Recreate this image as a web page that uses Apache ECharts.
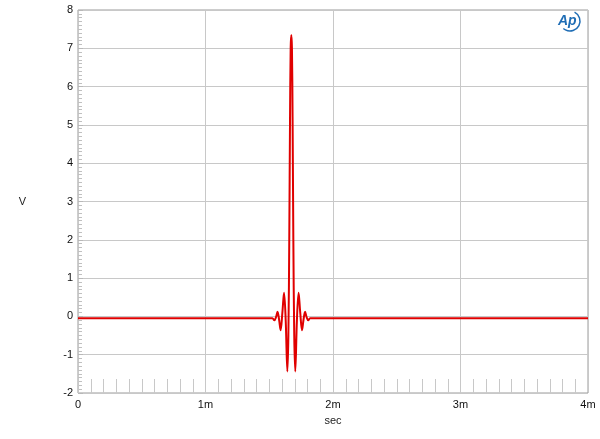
<!DOCTYPE html>
<html>
<head>
<meta charset="utf-8">
<script src="https://cdn.jsdelivr.net/npm/echarts@6/dist/echarts.min.js"></script>
<style>html,body{margin:0;padding:0;background:#fff}#c{width:600px;height:439px}</style>
</head>
<body>
<div id="c"></div>
<script>
// time in milliseconds
const timeMs = [0, 1.50, 1.525, 1.540, 1.553, 1.565, 1.577, 1.589, 1.603, 1.616, 1.629, 1.642, 1.650, 1.657, 1.663, 1.668, 1.673, 1.678, 1.683, 1.689, 1.696, 1.704, 1.717, 1.730, 1.743, 1.757, 1.769, 1.781, 1.793, 1.806, 1.821, 4.0];
const volts  = [-0.05, -0.05, -0.05, -0.10, -0.02, 0.12, -0.08, -0.36, 0.10, 0.62, -0.10, -1.44, -0.5, 2.0, 5.2, 7.0, 7.35, 7.0, 5.2, 2.0, -0.5, -1.44, -0.10, 0.62, 0.10, -0.36, -0.08, 0.12, -0.02, -0.10, -0.05, -0.05];
const xTicks = [0, 1, 2, 3, 4];
const yTicks = [-2, -1, 0, 1, 2, 3, 4, 5, 6, 7, 8];

const font = 'Liberation Sans, Arial, sans-serif';
const chart = echarts.init(document.getElementById('c'), null, {renderer: 'canvas'});
chart.setOption({
  animation: false,
  grid: {left: 78, right: 12, top: 10, bottom: 46, show: true, borderColor: '#9a9a9a', borderWidth: 1},
  xAxis: {
    type: 'value', min: xTicks[0], max: xTicks[xTicks.length - 1], interval: 1,
    name: 'sec', nameLocation: 'middle', nameGap: 22,
    nameTextStyle: {color: '#222', fontFamily: font, fontSize: 11},
    axisLine: {show: false, onZero: false},
    axisTick: {show: true, inside: true, length: 14, lineStyle: {color: '#c8c8c8'}},
    minorTick: {show: true, splitNumber: 10, length: 14, lineStyle: {color: '#c8c8c8'}},
    splitLine: {show: true, lineStyle: {color: '#c8c8c8', width: 1}},
    axisLabel: {color: '#111', fontFamily: font, fontSize: 11, margin: 6,
      formatter: v => v === 0 ? '0' : v + 'm'}
  },
  yAxis: {
    type: 'value', min: yTicks[0], max: yTicks[yTicks.length - 1], interval: 1,
    name: 'V', nameLocation: 'middle', nameGap: 52, nameRotate: 0,
    nameTextStyle: {color: '#222', fontFamily: font, fontSize: 11},
    axisLine: {show: false, onZero: false},
    axisTick: {show: true, inside: true, length: 5, lineStyle: {color: '#b8b8b8'}},
    minorTick: {show: true, splitNumber: 10, length: 4, lineStyle: {color: '#c0c0c0'}},
    splitLine: {show: true, lineStyle: {color: '#c8c8c8', width: 1}},
    axisLabel: {color: '#111', fontFamily: font, fontSize: 11, margin: 5}
  },
  series: [{
    type: 'line',
    data: timeMs.map((t, i) => [t, volts[i]]),
    smooth: 0.35,
    showSymbol: false,
    lineStyle: {color: '#e00000', width: 2},
    z: 5
  }],
  graphic: [
    {type: 'arc', shape: {cx: 570, cy: 21, r: 10, startAngle: -1.1, endAngle: 2.3}, style: {stroke: '#1f6db5', lineWidth: 1.5, fill: null}},
    {type: 'text', left: 558, top: 14, style: {text: 'Ap', fill: '#1f6db5', font: 'italic bold 14px ' + font}}
  ]
});
</script>
</body>
</html>
